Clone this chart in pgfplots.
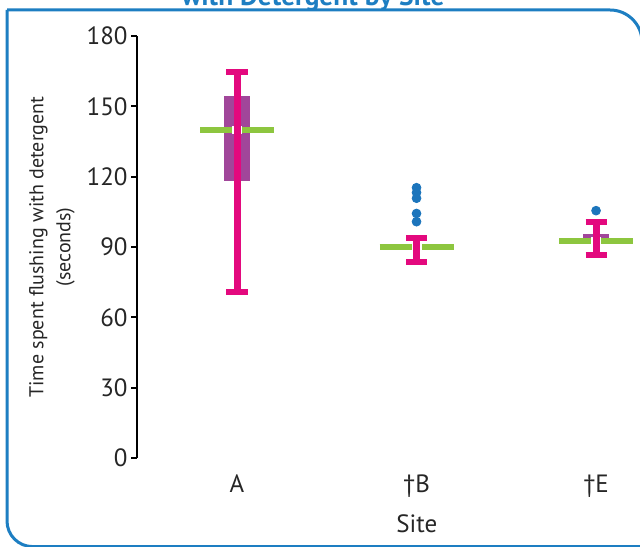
\documentclass[border=0pt]{standalone}
\usepackage{fontspec}
\setmainfont{PT Sans}
\usepackage{pgfplots}
\pgfplotsset{compat=1.18}
\definecolor{frameblue}{HTML}{1D7EC2}
\definecolor{whisk}{HTML}{E3097E}
\definecolor{boxc}{HTML}{A1469A}
\definecolor{med}{HTML}{8DC63F}
\definecolor{dot}{HTML}{1C75BC}
\begin{document}
\begin{tikzpicture}
\useasboundingbox (0,0) rectangle (320pt,273pt);
\draw[frameblue, line width=1.5pt] (3.5pt,268pt) -- (305pt,268pt) arc[start angle=90,end angle=0,radius=16pt] -- (321pt,-10pt);
\draw[frameblue, line width=1.5pt] (3.5pt,268pt) -- (3.5pt,12.5pt) arc[start angle=180,end angle=270,radius=12.8pt] -- (330pt,-0.3pt);
\node[anchor=base, text=frameblue, font=\fontsize{13.7}{16}\selectfont\bfseries, inner sep=0pt] at (156.5pt,270pt) {with Detergent by Site};
\begin{axis}[at={(68.5pt,44pt)}, anchor=south west, scale only axis,
  width=274.4pt, height=211pt,
  xmin=-0.557, xmax=2.5, ymin=0, ymax=180,
  axis y line*=left, axis x line*=bottom,
  x axis line style={draw=none},
  y axis line style={line width=1pt, black},
  xtick={0,1,2}, xticklabels={A, \textdagger B, \textdagger E},
  xtick style={draw=none},
  ytick={0,30,...,180},
  ytick style={line width=1pt, black},
  major tick length=3pt, tick align=outside,
  /pgf/number format/assume math mode=true,
  tick label style={font=\fontsize{12.5}{15}\selectfont, text=black!85},
  yticklabel style={inner sep=1.5pt},
  xticklabel style={anchor=base, yshift=-14pt},
  xlabel={Site},
  xlabel style={at={(axis description cs:0.51,-0.1754)}, anchor=base, font=\fontsize{12.5}{15}\selectfont, text=black!85},
  ylabel={Time spent flushing with detergent\\(seconds)},
  ylabel style={align=center, font=\fontsize{10}{13.5}\selectfont, text=black!85, at={(axis description cs:-0.1549,0.5)}, anchor=center},
  clip=false,
]
% boxes
\addplot[fill=boxc, draw=none] coordinates {(-0.0724,118.3)(0.0724,118.3)(0.0724,154.4)(-0.0724,154.4)};
\addplot[fill=boxc, draw=none] coordinates {(0.9276,88.6)(1.0724,88.6)(1.0724,90.6)(0.9276,90.6)};
\addplot[fill=boxc, draw=none] coordinates {(1.9276,91.3)(2.0724,91.3)(2.0724,95.6)(1.9276,95.6)};
% medians
\addplot[med, line width=3pt] coordinates {(-0.206,139.9)(0.206,139.9)};
\addplot[med, line width=3pt] coordinates {(0.794,89.9)(1.206,89.9)};
\addplot[med, line width=3pt] coordinates {(1.794,92.7)(2.206,92.7)};
% white gaps
\addplot[white, line width=5pt] coordinates {(0,138.4)(0,141.4)};
\addplot[white, line width=5pt] coordinates {(1,88.4)(1,91.4)};
\addplot[white, line width=5pt] coordinates {(2,91.2)(2,94.2)};
% whiskers
\addplot[whisk, line width=3.5pt] coordinates {(0,70.8)(0,164.6)};
\addplot[whisk, line width=3.5pt] coordinates {(1,83.8)(1,93.7)};
\addplot[whisk, line width=3.5pt] coordinates {(2,86.6)(2,100.8)};
% caps
\addplot[whisk, line width=3pt] coordinates {(-0.0585,164.6)(0.0585,164.6)};
\addplot[whisk, line width=3pt] coordinates {(-0.0585,70.8)(0.0585,70.8)};
\addplot[whisk, line width=3pt] coordinates {(0.9415,93.7)(1.0585,93.7)};
\addplot[whisk, line width=3pt] coordinates {(0.9415,83.8)(1.0585,83.8)};
\addplot[whisk, line width=3pt] coordinates {(1.9415,100.8)(2.0585,100.8)};
\addplot[whisk, line width=3pt] coordinates {(1.9415,86.6)(2.0585,86.6)};
% outliers
\addplot[only marks, mark=*, mark size=2.2pt, color=dot, mark options={draw=dot, fill=dot}] coordinates {(1,115.3)(1,113.2)(1,110.8)(1,104.3)(1,100.8)(2,105.5)};
\end{axis}
\end{tikzpicture}
\end{document}
